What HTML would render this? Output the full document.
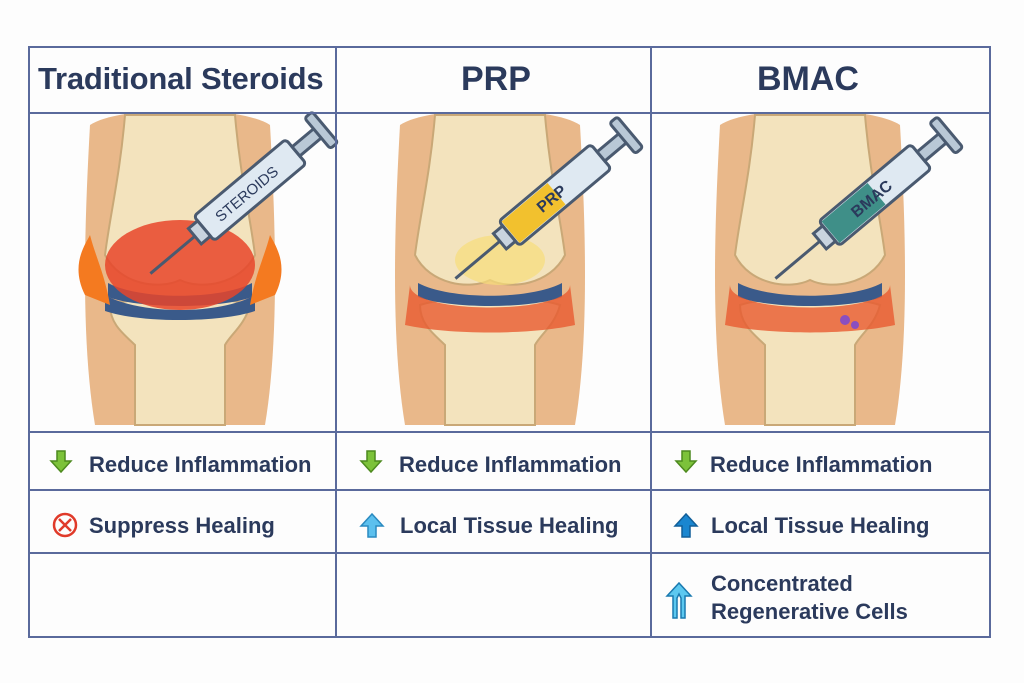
<!DOCTYPE html>
<html><head><meta charset="utf-8"><style>
body{margin:0;width:1024px;height:683px;background:#fdfdfd;overflow:hidden;font-family:"Liberation Sans","DejaVu Sans",sans-serif;}
svg{position:absolute;left:0;top:0}
.t{position:absolute;color:#2b3a5c;font-weight:bold;white-space:nowrap}
</style></head><body>
<svg width="1024" height="683" viewBox="0 0 1024 683">
<defs>
<clipPath id="c1"><rect x="30" y="114" width="960" height="317"/></clipPath>
<g id="knee">
 <path d="M-90,-150 C-60,-170 60,-170 90,-150 C95,-60 100,60 85,150 L-85,150 C-100,60 -95,-60 -90,-150Z" fill="#e9b88a"/>
 <path d="M-55,-160 L55,-160 C60,-100 70,-60 75,-20 C60,10 20,15 0,5 C-20,15 -60,10 -75,-20 C-70,-60 -60,-100 -55,-160Z" fill="#f3e3bd" stroke="#c9a877" stroke-width="2"/>
 <path d="M-70,30 C-40,20 40,20 70,30 C65,50 50,60 45,70 L45,150 L-45,150 L-45,70 C-55,60 -70,50 -70,30Z" fill="#f3e3bd" stroke="#c9a877" stroke-width="2"/>
 <path d="M-72,8 C-40,25 40,25 72,8 L72,22 C40,34 -40,34 -72,22Z" fill="#3a5a8a"/>
</g>
<g id="syr">
 <rect x="-60" y="-16" width="120" height="32" rx="4" fill="#dfe9f2" stroke="#4a5a70" stroke-width="3"/>
 <rect x="60" y="-6" width="30" height="12" fill="#b9c8d6" stroke="#4a5a70" stroke-width="3"/>
 <rect x="88" y="-20" width="10" height="40" rx="3" fill="#b9c8d6" stroke="#4a5a70" stroke-width="3"/>
 <rect x="-72" y="-10" width="12" height="20" fill="#c9d4df" stroke="#4a5a70" stroke-width="3"/>
 <line x1="-72" y1="0" x2="-130" y2="0" stroke="#4a5a70" stroke-width="3"/>
</g>
</defs>
<g clip-path="url(#c1)">
<g transform="translate(180,275)"><use href="#knee"/>
 <ellipse cx="0" cy="-10" rx="75" ry="45" fill="#e8452a" opacity=".85"/>
 <path d="M-75,20 C-40,40 40,40 75,20 L75,36 C40,48 -40,48 -75,36Z" fill="#3a5a8a"/>
 <path d="M-95,20 C-110,-10 -95,-30 -90,-40 C-85,-20 -75,0 -70,30Z" fill="#f47a20"/>
 <path d="M95,20 C110,-10 95,-30 90,-40 C85,-20 75,0 70,30Z" fill="#f47a20"/>
</g>
<g transform="translate(490,275)"><use href="#knee"/>
 <path d="M-80,10 C-80,40 80,40 80,10 L85,50 C40,60 -40,60 -85,50Z" fill="#e85a30" opacity=".8"/>
 <ellipse cx="10" cy="-15" rx="45" ry="25" fill="#f7dd7a" opacity=".7"/>
</g>
<g transform="translate(810,275)"><use href="#knee"/>
 <path d="M-80,10 C-80,40 80,40 80,10 L85,50 C40,60 -40,60 -85,50Z" fill="#e85a30" opacity=".8"/>
 <circle cx="35" cy="45" r="5" fill="#8a4fc0"/><circle cx="45" cy="50" r="4" fill="#8a4fc0"/>
</g>
</g>
<g transform="translate(250,190) rotate(-40)"><use href="#syr"/><text x="-5" y="6" font-size="15" fill="#2b3a5c" text-anchor="middle" font-family="Liberation Sans">STEROIDS</text></g>
<g transform="translate(555,195) rotate(-40)"><use href="#syr"/><rect x="-58" y="-14" width="60" height="28" fill="#f2c12e"/><text x="-5" y="6" font-size="16" font-weight="bold" fill="#2b3a5c" text-anchor="middle" font-family="Liberation Sans">PRP</text></g>
<g transform="translate(875,195) rotate(-40)"><use href="#syr"/><rect x="-58" y="-14" width="60" height="28" fill="#3f8f88"/><text x="-5" y="6" font-size="16" font-weight="bold" fill="#2b3a5c" text-anchor="middle" font-family="Liberation Sans">BMAC</text></g>
<g stroke="#5a6a9c" stroke-width="2" fill="none">
 <rect x="29" y="47" width="961" height="590"/>
 <line x1="336" y1="47" x2="336" y2="637"/>
 <line x1="651" y1="47" x2="651" y2="637"/>
 <line x1="29" y1="113" x2="990" y2="113"/>
 <line x1="29" y1="432" x2="990" y2="432"/>
 <line x1="29" y1="490" x2="990" y2="490"/>
 <line x1="29" y1="553" x2="990" y2="553"/>
</g>
<g fill="#7cc23a" stroke="#4d8a1e" stroke-width="1.5">
 <path d="M57,451 h8 v10 h6 l-10,11 l-10,-11 h6z"/>
 <path d="M367,451 h8 v10 h6 l-10,11 l-10,-11 h6z"/>
 <path d="M682,451 h8 v10 h6 l-10,11 l-10,-11 h6z"/>
</g>
<circle cx="65" cy="525" r="11" fill="none" stroke="#e03a2a" stroke-width="2.5"/>
<path d="M59,519 l12,12 M71,519 l-12,12" stroke="#e03a2a" stroke-width="2.5"/>
<path d="M376,537 h-8 v-11 h-7 l11,-12 l11,12 h-7z" fill="#5cc0ee" stroke="#2a8ac0" stroke-width="1.5"/>
<path d="M690,537 h-8 v-11 h-7 l11,-12 l11,12 h-7z" fill="#1a86d0" stroke="#115f99" stroke-width="1.5"/>
<path d="M673,618 v-22 h-6 l12,-13 l12,13 h-6 v22 h-4 v-20 l-2,-4 l-2,4 v20z" fill="#5cc8f0" stroke="#1a7ab0" stroke-width="1.5"/>
</svg>
<div class="t" style="left:38px;top:61px;font-size:31px;letter-spacing:-0.2px">Traditional Steroids</div>
<div class="t" style="left:461px;top:60px;font-size:34px">PRP</div>
<div class="t" style="left:757px;top:60px;font-size:34px">BMAC</div>
<div class="t" style="left:89px;top:452px;font-size:22px">Reduce Inflammation</div>
<div class="t" style="left:89px;top:513px;font-size:22px">Suppress Healing</div>
<div class="t" style="left:399px;top:452px;font-size:22px">Reduce Inflammation</div>
<div class="t" style="left:400px;top:513px;font-size:22px">Local Tissue Healing</div>
<div class="t" style="left:710px;top:452px;font-size:22px">Reduce Inflammation</div>
<div class="t" style="left:711px;top:513px;font-size:22px">Local Tissue Healing</div>
<div class="t" style="left:711px;top:570px;font-size:22px;line-height:28px">Concentrated<br>Regenerative Cells</div>
</body></html>
